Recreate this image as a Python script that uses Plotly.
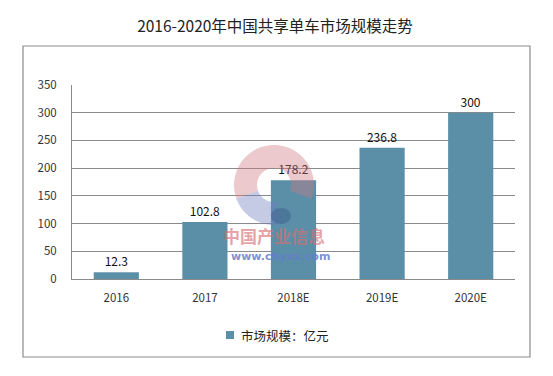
import numpy as np
import plotly.graph_objects as go

categories = ["2016", "2017", "2018E", "2019E", "2020E"]
values = [12.3, 102.8, 178.2, 236.8, 300]
value_labels = ["12.3", "102.8", "178.2", "236.8", "300"]
y_ticks = [0, 50, 100, 150, 200, 250, 300, 350]
series_name = "市场规模：亿元"
title_text = "2016-2020年中国共享单车市场规模走势"

W, H = 553, 376
L, R, T, B = 72, 38, 85, 97
PW, PH = W - L - R, H - T - B

def px2paper(px, py):
    return (px - L) / PW, (H - B - py) / PH

def ring_path(cx, cy, r1, r2, a0, a1, n=40):
    a = np.radians(np.linspace(a0, a1, n))
    outer = [px2paper(cx + r2 * np.cos(t), cy - r2 * np.sin(t)) for t in a]
    inner = [px2paper(cx + r1 * np.cos(t), cy - r1 * np.sin(t)) for t in a[::-1]]
    pts = outer + inner
    return "M " + " L ".join(f"{x:.4f},{y:.4f}" for x, y in pts) + " Z"

def blob_path(cx, cy, rx, ry, n=40):
    a = np.radians(np.linspace(0, 360, n))
    pts = [px2paper(cx + rx * np.cos(t), cy - ry * np.sin(t)) for t in a]
    return "M " + " L ".join(f"{x:.4f},{y:.4f}" for x, y in pts) + " Z"

font = "Noto Sans CJK SC, Noto Sans, sans-serif"
bar_color = "#5b8fa8"
grid_color = "#8a8a8a"

fig = go.Figure()
fig.add_trace(go.Bar(
    x=categories, y=values, name=series_name,
    marker=dict(color=bar_color, line=dict(width=0)),
    text=value_labels, textposition="outside", cliponaxis=False,
    textfont=dict(size=12, color="#111111", family=font),
    width=0.51, showlegend=False,
))

x0, y0 = px2paper(23, 46)
x1, y1 = px2paper(530, 357)
lx0, ly0 = px2paper(226, 331)
lx1, ly1 = px2paper(234, 339)
shapes = [
    dict(type="rect", xref="paper", yref="paper", x0=x0, y0=y0, x1=x1, y1=y1,
         line=dict(color="#8c8c8c", width=1.2), layer="below"),
    # legend swatch
    dict(type="rect", xref="paper", yref="paper", x0=lx0, y0=ly0, x1=lx1, y1=ly1,
         fillcolor=bar_color, line=dict(width=0)),
    # watermark logo
    dict(type="path", xref="paper", yref="paper", path=ring_path(274, 185, 17, 40, 200, -20),
         fillcolor="rgba(205,120,130,0.4)", line=dict(width=0), layer="above"),
    dict(type="path", xref="paper", yref="paper", path=ring_path(274, 185, 17, 40, 200, 280),
         fillcolor="rgba(110,125,190,0.4)", line=dict(width=0), layer="above"),
    dict(type="path", xref="paper", yref="paper", path=blob_path(281, 216, 10, 8),
         fillcolor="rgba(40,70,120,0.3)", line=dict(width=0), layer="above"),
]

tx, ty = px2paper(274, 235)
wx, wy = px2paper(280, 256)
gx, gy = px2paper(239, 335)
annotations = [
    dict(text="<b>中国产业信息</b>", xref="paper", yref="paper", x=tx, y=ty,
         showarrow=False, font=dict(size=17, color="rgba(215,110,115,0.65)", family=font),
         xanchor="center", yanchor="middle"),
    dict(text="<b>www.chyxx.com</b>", xref="paper", yref="paper", x=wx, y=wy,
         showarrow=False, font=dict(size=11, color="rgba(100,125,205,0.85)", family="DejaVu Sans"),
         xanchor="center", yanchor="middle"),
    dict(text=series_name, xref="paper", yref="paper", x=gx, y=gy,
         showarrow=False, font=dict(size=12.5, color="#222222", family=font),
         xanchor="left", yanchor="middle"),
]

fig.update_layout(
    width=W, height=H,
    margin=dict(l=L, r=R, t=T, b=B),
    paper_bgcolor="white", plot_bgcolor="white",
    title=dict(text=title_text, x=275 / W, xref="container", xanchor="center",
               y=1 - 27 / H, yanchor="middle", yref="container",
               font=dict(size=15.5, color="#222222", family=font)),
    font=dict(family=font, size=11, color="#333333"),
    showlegend=False,
    shapes=shapes,
    annotations=annotations,
    bargap=0.49,
)
fig.update_yaxes(range=[0, 350], tickvals=y_ticks, showgrid=True, gridcolor=grid_color,
                 gridwidth=1, showline=True, linecolor=grid_color, linewidth=1,
                 ticks="", ticklabelstandoff=12, zeroline=False,
                 tickfont=dict(size=11.5, color="#333333", family=font))
fig.update_xaxes(showline=True, linecolor=grid_color, linewidth=1, ticks="",
                 ticklabelstandoff=8,
                 tickfont=dict(size=11.5, color="#333333", family=font))

fig.write_html("out.html", config={"displayModeBar": False},
               post_script="document.body.style.margin='0';")
